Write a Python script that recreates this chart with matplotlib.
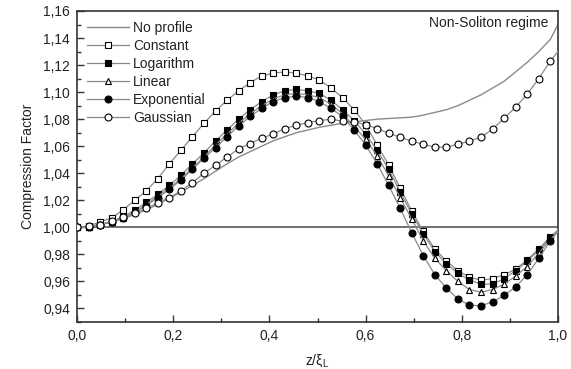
import matplotlib
matplotlib.use("Agg")
import matplotlib.pyplot as plt
from matplotlib.ticker import MultipleLocator, FuncFormatter

plt.rcParams['font.family'] = ['Liberation Sans', 'DejaVu Sans']
plt.rcParams['mathtext.fontset'] = 'custom'
plt.rcParams['mathtext.rm'] = 'Liberation Sans'

# marker positions z/xi_L
x = [0.000, 0.024, 0.048, 0.072, 0.096, 0.120, 0.144, 0.168, 0.192, 0.216,
     0.240, 0.264, 0.288, 0.312, 0.336, 0.360, 0.384, 0.408, 0.432, 0.456,
     0.480, 0.504, 0.528, 0.552, 0.576, 0.600, 0.624, 0.648, 0.672, 0.696,
     0.720, 0.744, 0.768, 0.792, 0.816, 0.840, 0.864, 0.888, 0.912, 0.936,
     0.960, 0.984, 1.000]

no_profile = [1.000, 1.0005, 1.002, 1.004, 1.0065, 1.0095, 1.013, 1.017, 1.0215, 1.026,
              1.031, 1.036, 1.0415, 1.047, 1.052, 1.056, 1.060, 1.064, 1.067, 1.070,
              1.072, 1.074, 1.0755, 1.077, 1.078, 1.079, 1.080, 1.0805, 1.081, 1.0815,
              1.083, 1.085, 1.087, 1.090, 1.094, 1.098, 1.103, 1.108, 1.115, 1.122,
              1.130, 1.139, 1.150]

constant = [1.000, 1.001, 1.004, 1.007, 1.013, 1.020, 1.027, 1.036, 1.047, 1.057,
            1.067, 1.077, 1.086, 1.094, 1.101, 1.107, 1.112, 1.114, 1.115, 1.114,
            1.112, 1.109, 1.103, 1.096, 1.087, 1.076, 1.061, 1.046, 1.029, 1.012,
            0.997, 0.984, 0.975, 0.968, 0.963, 0.961, 0.962, 0.965, 0.969, 0.976,
            0.984, 0.993, 0.998]

logarithm = [1.000, 1.000, 1.002, 1.004, 1.008, 1.0126, 1.0185, 1.0244, 1.031, 1.0385,
             1.047, 1.055, 1.064, 1.072, 1.080, 1.087, 1.093, 1.098, 1.101, 1.102,
             1.101, 1.099, 1.094, 1.087, 1.079, 1.069, 1.057, 1.043, 1.026, 1.010,
             0.995, 0.982, 0.973, 0.966, 0.961, 0.958, 0.958, 0.962, 0.968, 0.975,
             0.983, 0.992, 0.997]

linear = [1.000, 1.000, 1.002, 1.004, 1.007, 1.011, 1.017, 1.023, 1.029, 1.036,
          1.044, 1.052, 1.061, 1.069, 1.077, 1.084, 1.090, 1.095, 1.098, 1.099,
          1.098, 1.096, 1.091, 1.084, 1.075, 1.065, 1.053, 1.038, 1.022, 1.006,
          0.990, 0.977, 0.968, 0.960, 0.954, 0.952, 0.954, 0.958, 0.964, 0.971,
          0.981, 0.991, 0.997]

exponential = [1.000, 1.000, 1.002, 1.004, 1.007, 1.011, 1.016, 1.022, 1.028, 1.035,
               1.043, 1.051, 1.059, 1.067, 1.075, 1.082, 1.088, 1.093, 1.096, 1.097,
               1.096, 1.093, 1.088, 1.082, 1.072, 1.061, 1.047, 1.031, 1.014, 0.996,
               0.979, 0.965, 0.955, 0.947, 0.9425, 0.942, 0.945, 0.9496, 0.956, 0.965,
               0.977, 0.990, 0.997]

gaussian = [1.000, 1.0007, 1.002, 1.0044, 1.0074, 1.0104, 1.014, 1.018, 1.022, 1.027,
            1.033, 1.040, 1.046, 1.052, 1.058, 1.062, 1.066, 1.069, 1.073, 1.0755,
            1.0775, 1.079, 1.080, 1.0785, 1.078, 1.076, 1.073, 1.0696, 1.0667, 1.0637,
            1.0615, 1.0593, 1.0593, 1.0615, 1.0637, 1.0667, 1.0726, 1.0807, 1.0889, 1.0985,
            1.110, 1.123, 1.130]

labels = ["No profile", "Constant", "Logarithm", "Linear", "Exponential", "Gaussian"]
reference_level = 1.0

fig = plt.figure(figsize=(5.71, 3.69), dpi=100)
ax = fig.add_axes([77/571, 1-322/369, (558-77)/571, (322-11)/369])

line_col = '#8a8a8a'
ax.axhline(reference_level, color='#707070', lw=1.4, zorder=1)

ax.plot(x, no_profile, color=line_col, lw=1.0, label=labels[0], zorder=2)

mev = slice(0, len(x) - 1)
common = dict(color=line_col, lw=0.9, markersize=5, markevery=mev,
              markeredgecolor='black', markeredgewidth=0.8, zorder=3)
ax.plot(x, constant, marker='s', markerfacecolor='white', label=labels[1], **common)
ax.plot(x, logarithm, marker='s', markerfacecolor='black', label=labels[2], **common)
ax.plot(x, linear, marker='^', markerfacecolor='white', label=labels[3], **common)
ax.plot(x, exponential, marker='o', markerfacecolor='black', label=labels[4], **common)
ax.plot(x, gaussian, marker='o', markerfacecolor='white', label=labels[5], **common)

ax.set_xlim(0, 1.0)
ax.set_ylim(0.93, 1.16)
ax.xaxis.set_major_locator(MultipleLocator(0.2))
ax.xaxis.set_minor_locator(MultipleLocator(0.1))
ax.yaxis.set_major_locator(MultipleLocator(0.02))
ax.yaxis.set_minor_locator(MultipleLocator(0.01))
ax.xaxis.set_major_formatter(FuncFormatter(lambda v, p: f"{v:.1f}".replace('.', ',')))
ax.yaxis.set_major_formatter(FuncFormatter(lambda v, p: f"{v:.2f}".replace('.', ',')))
ax.tick_params(which='both', direction='in', top=False, right=False,
               labelsize=10, labelcolor='#222222', color='#333333')
ax.tick_params(which='major', length=5, width=1, pad=5)
ax.tick_params(which='minor', length=3, width=1)
for s in ax.spines.values():
    s.set_color('#333333')
    s.set_linewidth(1.2)

ax.set_xlabel('z/ξ$_\\mathregular{L}$', fontsize=10, color='#222222', labelpad=7)
ax.set_ylabel('Compression Factor', fontsize=10, color='#222222', labelpad=6)

ax.text(0.98, 0.985, 'Non-Soliton regime', transform=ax.transAxes,
        ha='right', va='top', fontsize=10, color='#222222')

leg = ax.legend(loc='upper left', frameon=False, fontsize=10,
                handlelength=3.0, handletextpad=0.3, labelspacing=0.28,
                borderaxespad=0.0, bbox_to_anchor=(0.01, 0.985))
for t in leg.get_texts():
    t.set_color('#222222')

fig.savefig('out.png', dpi=100)
